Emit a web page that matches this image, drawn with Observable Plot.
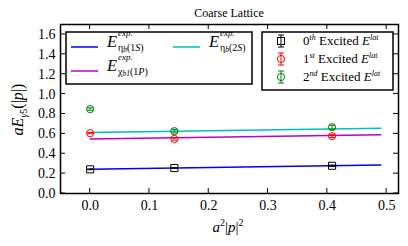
<!DOCTYPE html>
<html><head><meta charset="utf-8">
<script src="https://cdn.jsdelivr.net/npm/d3@7"></script>
<script src="https://cdn.jsdelivr.net/npm/@observablehq/plot@0.6"></script>
<style>
body{margin:0;background:#fff}
svg, svg text{font-family:"Liberation Serif","DejaVu Serif",serif !important}
</style>
</head><body><div id="chart"></div>
<script>
// ---- data ----
const momenta = [0, 0.142, 0.408];
const state0 = [0.243, 0.256, 0.279];
const state0Err = [0.004, 0.004, 0.006];
const state1 = [0.607, 0.549, 0.577];
const state1Err = [0.006, 0.012, 0.014];
const state2 = [0.849, 0.627, 0.667];
const state2Err = [0.012, 0.018, 0.02];
const fitX = [0, 0.49];
const fit1S = [0.243, 0.286];
const fit2S = [0.613, 0.657];
const fit1P = [0.549, 0.590];
const xTicks = [0, 0.1, 0.2, 0.3, 0.4, 0.5];
const yTicks = [0, 0.2, 0.4, 0.6, 0.8, 1.0, 1.2, 1.4, 1.6];
const titleText = "Coarse Lattice";

const BLUE = "#0000ff", CYAN = "#00bfbf", MAG = "#bf00bf", RED = "#ff0000", GREEN = "#008000";

const points = [];
[[state0, state0Err, "black", "square"], [state1, state1Err, RED, "circle"], [state2, state2Err, GREEN, "circle"]]
  .forEach(([vals, errs, color, sym], s) => vals.forEach((v, i) => points.push({x: momenta[i], y: v, e: errs[i], color, sym, s})));
const fits = [];
[[fit1S, BLUE], [fit1P, MAG], [fit2S, CYAN]].forEach(([vals, color]) =>
  vals.forEach((v, i) => fits.push({x: fitX[i], y: v, color})));

const capSymbol = {draw(ctx, size) { const w = 3; ctx.moveTo(-w, 0); ctx.lineTo(w, 0); }};

const W = 408, H = 246, mL = 60, mR = 10, mT = 24, mB = 53;
const chart = Plot.plot({
  width: W, height: H,
  marginLeft: mL, marginRight: mR, marginTop: mT, marginBottom: mB,
  style: "font-family: 'Liberation Serif', serif; background: white; color: black;",
  x: {domain: [-0.05, 0.52]},
  y: {domain: [0, 1.7]},
  marks: [
    Plot.line(fits, {x: "x", y: "y", z: "color", stroke: "color", strokeWidth: 1.5}),
    Plot.ruleX(points, {x: "x", y1: d => d.y - d.e, y2: d => d.y + d.e, stroke: "color", strokeWidth: 1}),
    Plot.dot(points, {x: "x", y: d => d.y - d.e, symbol: capSymbol, r: 3, stroke: "color", strokeWidth: 1}),
    Plot.dot(points, {x: "x", y: d => d.y + d.e, symbol: capSymbol, r: 3, stroke: "color", strokeWidth: 1}),
    Plot.dot(points.filter(d => d.sym === "square"), {x: "x", y: "y", symbol: "square", r: 4, stroke: "color", fill: "none", strokeWidth: 1}),
    Plot.dot(points.filter(d => d.sym === "circle"), {x: "x", y: "y", symbol: "circle", r: 3.6, stroke: "color", fill: "none", strokeWidth: 1}),
    Plot.axisX({ticks: xTicks, tickFormat: d3.format(".1f"), tickSize: 0, tickPadding: 7, fontSize: 14, label: null}),
    Plot.axisY({ticks: yTicks, tickFormat: d3.format(".1f"), tickSize: 0, tickPadding: 5, fontSize: 14, label: null}),
    Plot.frame({stroke: "black", strokeWidth: 1.5})
  ]
});
document.getElementById("chart").appendChild(chart);

const svg = d3.select(chart);
const sx = chart.scale("x").apply, sy = chart.scale("y").apply;
const fL = mL, fR = W - mR, fT = mT, fB = H - mB;
const tl = 5;
const tg = svg.append("g").attr("stroke", "black").attr("stroke-width", 1);
xTicks.forEach(t => {
  const x = sx(t);
  tg.append("line").attr("x1", x).attr("x2", x).attr("y1", fB).attr("y2", fB - tl);
  tg.append("line").attr("x1", x).attr("x2", x).attr("y1", fT).attr("y2", fT + tl);
});
yTicks.forEach(t => {
  const y = sy(t);
  tg.append("line").attr("x1", fL).attr("x2", fL + tl).attr("y1", y).attr("y2", y);
  tg.append("line").attr("x1", fR).attr("x2", fR - tl).attr("y1", y).attr("y2", y);
});

const ann = svg.append("g").attr("text-anchor", "start").attr("fill", "black")
  .attr("font-family", "'Liberation Serif', serif");

// title
ann.append("text").attr("x", (fL + fR) / 2).attr("y", 17).attr("text-anchor", "middle")
  .attr("font-size", 12).text(titleText);

// x label
const xl = ann.append("text").attr("x", (fL + fR) / 2 - 1).attr("y", 232).attr("text-anchor", "middle")
  .attr("font-size", 15);
xl.append("tspan").attr("font-style", "italic").text("a");
xl.append("tspan").attr("font-size", 10).attr("dy", -6).text("2");
xl.append("tspan").attr("dy", 6).text("|");
xl.append("tspan").attr("font-style", "italic").text("p");
xl.append("tspan").text("|");
xl.append("tspan").attr("font-size", 10).attr("dy", -6).text("2");

// y label
const yl = ann.append("text").attr("transform", `translate(23,${(fT + fB) / 2 + 1}) rotate(-90)`)
  .attr("text-anchor", "middle").attr("font-size", 16);
yl.append("tspan").attr("font-style", "italic").text("aE");
yl.append("tspan").attr("font-size", 10).attr("dy", 4).attr("font-style", "italic").text("γ");
yl.append("tspan").attr("font-size", 10).text("5");
yl.append("tspan").attr("dy", -4).text("(|");
yl.append("tspan").attr("font-style", "italic").text("p");
yl.append("tspan").text("|)");

// left legend
const lg = ann.append("g");
lg.append("rect").attr("x", 66).attr("y", 32).attr("width", 186).attr("height", 52)
  .attr("fill", "white").attr("stroke", "black").attr("stroke-width", 1.5);
[[BLUE, 71, 47, ["η", "b"], "1S"], [MAG, 71, 71, ["χ", "b1"], "1P"], [CYAN, 173, 47, ["η", "b"], "2S"]]
  .forEach(([c, x, y, sub, p]) => {
    lg.append("line").attr("x1", x).attr("x2", x + 27).attr("y1", y).attr("y2", y).attr("stroke", c).attr("stroke-width", 1.5);
    lg.append("text").attr("x", x + 36).attr("y", y - 0.5).attr("font-size", 16.5).attr("font-style", "italic").text("E");
    lg.append("text").attr("x", x + 47).attr("y", y - 11.5).attr("font-size", 9).attr("font-style", "italic").text("exp.");
    const s = lg.append("text").attr("x", x + 47).attr("y", y + 3.5).attr("font-size", 10).attr("font-style", "italic");
    s.append("tspan").attr("font-style", "normal").text(sub[0]);
    s.append("tspan").attr("font-size", 7.5).attr("dy", 1).text(sub[1]);
    s.append("tspan").attr("dy", -1).attr("font-style", "normal").text("(" + p[0]);
    s.append("tspan").text(p[1]);
    s.append("tspan").attr("font-style", "normal").text(")");
  });

// right legend
const rg = ann.append("g");
rg.append("rect").attr("x", 262).attr("y", 32).attr("width", 131).attr("height", 58)
  .attr("fill", "white").attr("stroke", "black").attr("stroke-width", 1.5);
[["0", "th", "black", "square", 41], ["1", "st", RED, "circle", 59], ["2", "nd", GREEN, "circle", 77]]
  .forEach(([n, suf, c, sym, y]) => {
    const x = 281;
    rg.append("line").attr("x1", x).attr("x2", x).attr("y1", y - 6).attr("y2", y + 6).attr("stroke", c);
    rg.append("line").attr("x1", x - 3).attr("x2", x + 3).attr("y1", y - 6).attr("y2", y - 6).attr("stroke", c);
    rg.append("line").attr("x1", x - 3).attr("x2", x + 3).attr("y1", y + 6).attr("y2", y + 6).attr("stroke", c);
    if (sym === "square") rg.append("rect").attr("x", x - 3.5).attr("y", y - 3.5).attr("width", 7).attr("height", 7).attr("fill", "none").attr("stroke", c);
    else rg.append("circle").attr("cx", x).attr("cy", y).attr("r", 3.6).attr("fill", "none").attr("stroke", c);
    const t = rg.append("text").attr("x", 303).attr("y", y + 4).attr("font-size", 13);
    t.append("tspan").text(n);
    t.append("tspan").attr("font-size", 8).attr("font-style", "italic").attr("dy", -5).text(suf);
    t.append("tspan").attr("dy", 5).text(" Excited ");
    t.append("tspan").attr("font-style", "italic").text("E");
    t.append("tspan").attr("font-size", 8).attr("font-style", "italic").attr("dy", -5).text("lat");
  });
</script>
</body></html>
